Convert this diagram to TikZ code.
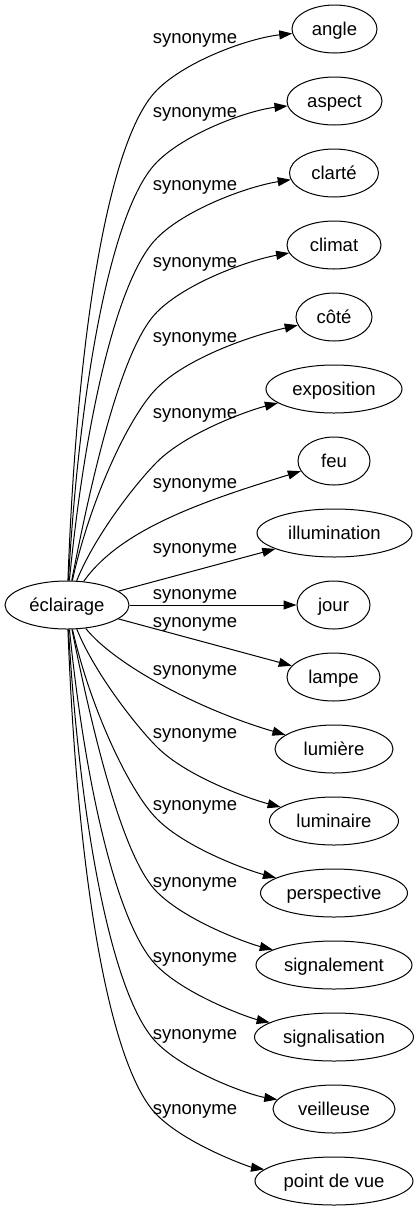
\documentclass[tikz,border=0pt]{standalone}
\usepackage{fontspec}
\setmainfont{Liberation Sans}
\usetikzlibrary{shapes.geometric,arrows.meta}
\tikzset{
  word/.style={draw, ellipse, line width=1pt, minimum height=48pt, inner sep=0pt,
    text height=16pt, text depth=4pt, font=\fontsize{18.5}{22}\selectfont},
  lab/.style={anchor=base, inner sep=0pt, font=\fontsize{18.5}{22}\selectfont},
  edge/.style={draw, line width=1pt, -{Triangle[length=13pt,width=9pt]}}
}
\begin{document}
\begin{tikzpicture}[x=1pt,y=-1pt]
\useasboundingbox (0,0) rectangle (419,1211);
% nodes
\node[word, minimum width=124pt] (e) at (67,605) {éclairage};
\node[word, minimum width=85pt]  (angle) at (334.5,29) {angle};
\node[word, minimum width=95pt]  (aspect) at (334.5,101) {aspect};
\node[word, minimum width=89pt]  (clarte) at (334,173) {clarté};
\node[word, minimum width=94pt]  (climat) at (334,245) {climat};
\node[word, minimum width=76pt]  (cote) at (334,317) {côté};
\node[word, minimum width=136pt] (exposition) at (334,389) {exposition};
\node[word, minimum width=72pt]  (feu) at (334,461) {feu};
\node[word, minimum width=155pt] (illumination) at (334.5,533) {illumination};
\node[word, minimum width=73pt]  (jour) at (333.5,605) {jour};
\node[word, minimum width=93pt]  (lampe) at (333.5,677) {lampe};
\node[word, minimum width=118pt] (lumiere) at (334,749) {lumière};
\node[word, minimum width=129pt] (luminaire) at (334,821) {luminaire};
\node[word, minimum width=147pt] (perspective) at (334,893) {perspective};
\node[word, minimum width=156pt] (signalement) at (334,965) {signalement};
\node[word, minimum width=159pt] (signalisation) at (334,1037) {signalisation};
\node[word, minimum width=122pt] (veilleuse) at (334,1109) {veilleuse};
\node[word, minimum width=158pt] (pdv) at (334,1181) {point de vue};
% edges
\draw[edge] (e) .. controls (78,311) and (112,135) .. (157,90) .. controls (187,60) and (250,38) .. (angle);
\draw[edge] (e) .. controls (80,380) and (112,207) .. (157,162) .. controls (187,132) and (250,110) .. (aspect);
\draw[edge] (e) .. controls (85,420) and (117,278) .. (157,238) .. controls (187,208) and (250,186) .. (clarte);
\draw[edge] (e) .. controls (95,460) and (124,345) .. (157,312) .. controls (187,282) and (250,260) .. (climat);
\draw[edge] (e) .. controls (90,500) and (129,416) .. (157,388) .. controls (187,358) and (250,336) .. (cote);
\draw[edge] (e) .. controls (95,535) and (137,482) .. (157,462) .. controls (187,432) and (250,410) .. (exposition);
\draw[edge] (e) .. controls (120,530) and (200,502) .. (feu);
\draw[edge] (e) -- (illumination);
\draw[edge] (e) -- (jour);
\draw[edge] (e) -- (lampe);
\draw[edge] (e) .. controls (115,665) and (200,710) .. (lumiere);
\draw[edge] (e) .. controls (95,674) and (137,727) .. (157,747) .. controls (187,777) and (250,799) .. (luminaire);
\draw[edge] (e) .. controls (90,707) and (129,791) .. (157,819) .. controls (187,849) and (250,871) .. (perspective);
\draw[edge] (e) .. controls (95,744) and (124,859) .. (157,892) .. controls (187,922) and (250,944) .. (signalement);
\draw[edge] (e) .. controls (85,784) and (117,926) .. (157,966) .. controls (187,996) and (250,1018) .. (signalisation);
\draw[edge] (e) .. controls (80,825) and (112,998) .. (157,1043) .. controls (187,1073) and (250,1095) .. (veilleuse);
\draw[edge] (e) .. controls (78,894) and (112,1070) .. (157,1115) .. controls (187,1145) and (250,1167) .. (pdv);
% labels
\foreach \ly in {38,112,185,262,337,413,483,548,594,622,670,733,805,882,957,1034,1109}
  \node[lab] at (195,\ly+5) {synonyme};
\end{tikzpicture}
\end{document}
